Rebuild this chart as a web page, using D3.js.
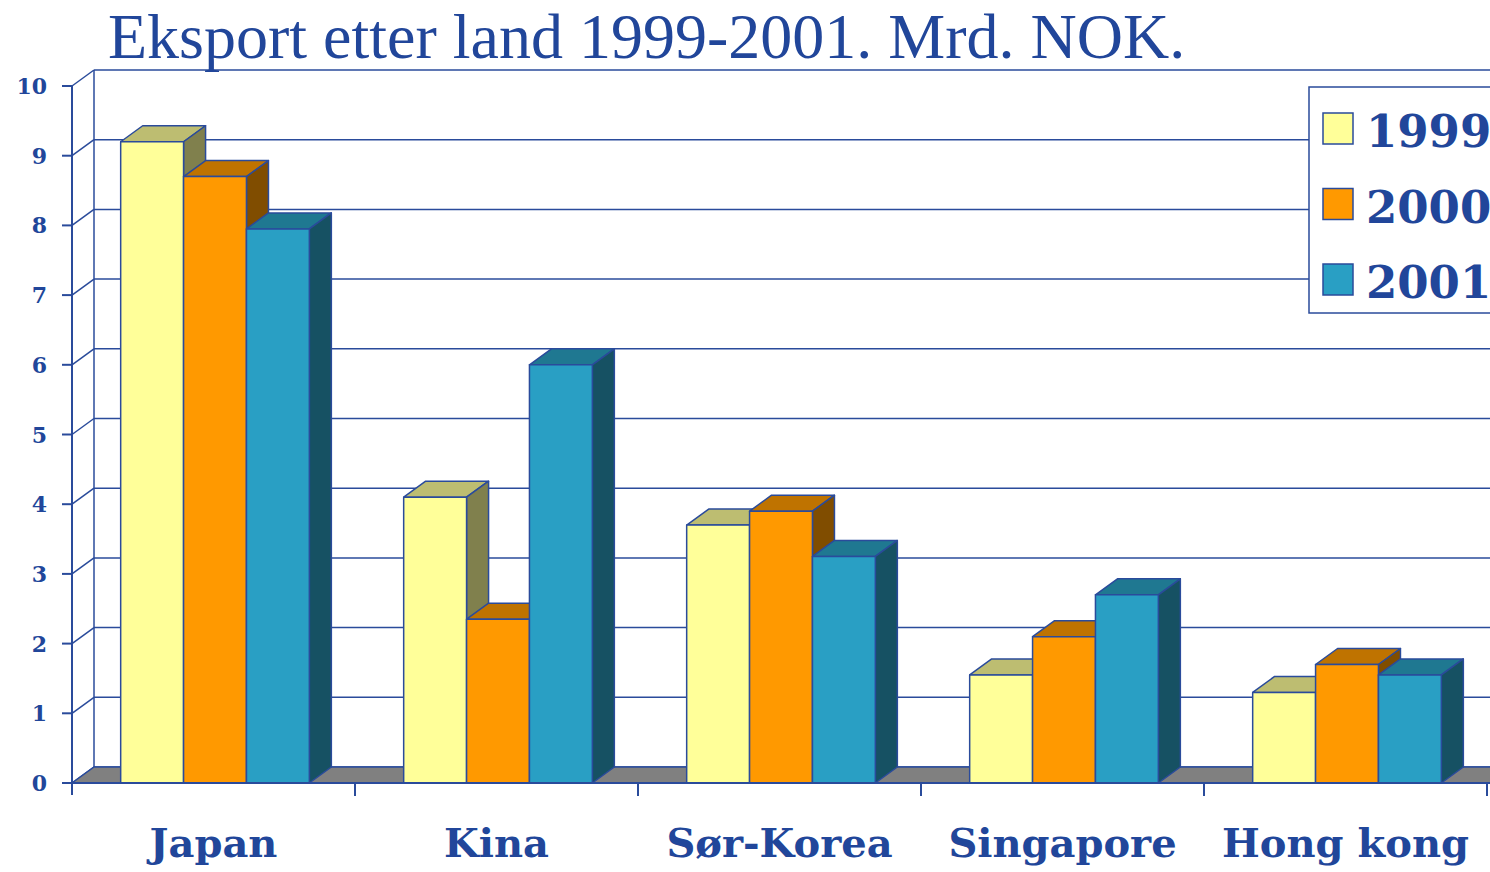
<!DOCTYPE html>
<html>
<head>
<meta charset="utf-8">
<script src="https://cdn.jsdelivr.net/npm/d3@7"></script>
<style>
  html, body { margin: 0; padding: 0; background: #fff; overflow: hidden; }
  svg { display: block; }
</style>
</head>
<body>
<svg id="chart" width="1490" height="872"></svg>
<script>
const categories = ['Japan', 'Kina', 'Sør-Korea', 'Singapore', 'Hong kong'];
const years = ['1999', '2000', '2001'];
const v1999 = [9.2, 4.1, 3.7, 1.55, 1.3];
const v2000 = [8.7, 2.35, 3.9, 2.1, 1.7];
const v2001 = [7.95, 6.0, 3.25, 2.7, 1.55];
const yTicks = [0, 1, 2, 3, 4, 5, 6, 7, 8, 9, 10];
const title = 'Eksport etter land 1999-2001. Mrd. NOK.';

const series = [v1999, v2000, v2001];
// front, top, side colours per year
const fills = [
    ['#ffff99', '#bdbd71', '#80804d'],
    ['#ff9900', '#bf7300', '#804d00'],
    ['#299fc4', '#1f7891', '#165163']
];
const blue = '#2a4b9b';
const textBlue = '#21469a';
const dx = 22, dy = -16;

var chart = d3.select('#chart');
var xs = d3.scaleBand().domain(categories).range([72, 72 + 283 * 5]);
var ys = d3.scaleLinear().domain([0, 10]).range([783, 86]);
var bw = xs.bandwidth();
var sub = d3.scaleBand().domain(years).range([0, bw * 2 / 3]);
var right = 1515;

// back wall gridlines + left wall diagonals
var grid = chart.append('g');
yTicks.forEach(function (t) {
    grid.append('line')
        .attr('x1', 72 + dx).attr('x2', right)
        .attr('y1', ys(t) + dy).attr('y2', ys(t) + dy)
        .attr('stroke', blue).attr('stroke-width', 1.5);
    grid.append('line')
        .attr('x1', 72).attr('x2', 72 + dx)
        .attr('y1', ys(t)).attr('y2', ys(t) + dy)
        .attr('stroke', blue).attr('stroke-width', 1.5);
});
grid.append('line')
    .attr('x1', 72 + dx).attr('x2', 72 + dx)
    .attr('y1', ys(10) + dy).attr('y2', ys(0) + dy)
    .attr('stroke', blue).attr('stroke-width', 1.5);

// floor
chart.append('path')
    .attr('d', 'M72,' + ys(0) + 'L' + right + ',' + ys(0) + 'L' + (right + dx) + ',' + (ys(0) + dy) +
        'L' + (72 + dx) + ',' + (ys(0) + dy) + 'Z')
    .attr('fill', '#808080').attr('stroke', blue).attr('stroke-width', 1.5);

// bars
var bars = chart.append('g');
categories.forEach(function (c, ci) {
    var x0 = xs(c) + bw * 0.172;
    series.forEach(function (s, si) {
        var x = x0 + sub(years[si]);
        var w = sub.bandwidth();
        var yt = ys(s[ci]), yb = ys(0);
        var g = bars.append('g')
            .attr('stroke', blue).attr('stroke-width', 1.5).attr('stroke-linejoin', 'round');
        g.append('path')
            .attr('d', 'M' + x + ',' + yt + 'L' + (x + dx) + ',' + (yt + dy) + 'L' + (x + w + dx) + ',' + (yt + dy) +
                'L' + (x + w) + ',' + yt + 'Z')
            .attr('fill', fills[si][1]);
        g.append('path')
            .attr('d', 'M' + (x + w) + ',' + yt + 'L' + (x + w + dx) + ',' + (yt + dy) + 'L' + (x + w + dx) + ',' + (yb + dy) +
                'L' + (x + w) + ',' + yb + 'Z')
            .attr('fill', fills[si][2]);
        g.append('rect')
            .attr('x', x).attr('y', yt).attr('width', w).attr('height', yb - yt)
            .attr('fill', fills[si][0]);
    });
});

// front axes
var ax = chart.append('g').attr('stroke', blue).attr('stroke-width', 2);
ax.append('line').attr('x1', 72).attr('x2', 72).attr('y1', ys(10)).attr('y2', ys(0) + 12);
ax.append('line').attr('x1', 72).attr('x2', right).attr('y1', ys(0)).attr('y2', ys(0));
yTicks.forEach(function (t) {
    ax.append('line').attr('x1', 62).attr('x2', 72).attr('y1', ys(t)).attr('y2', ys(t));
});
categories.forEach(function (c) {
    ax.append('line').attr('x1', xs(c) + bw).attr('x2', xs(c) + bw).attr('y1', ys(0)).attr('y2', ys(0) + 13);
});

chart.selectAll('.ylab').data(yTicks).enter().append('text')
    .attr('x', 47).attr('y', function (d) { return ys(d) + 8; })
    .attr('text-anchor', 'end')
    .style('font-family', '"DejaVu Serif", serif').style('font-weight', 'bold').style('font-size', '22px')
    .style('fill', textBlue)
    .text(function (d) { return d; });

chart.selectAll('.xlab').data(categories).enter().append('text')
    .attr('x', function (d) { return xs(d) + bw / 2; }).attr('y', 857)
    .attr('text-anchor', 'middle')
    .style('font-family', '"DejaVu Serif", serif').style('font-weight', 'bold').style('font-size', '40px')
    .style('fill', textBlue)
    .text(function (d) { return d; });

// legend
var lg = chart.append('g');
lg.append('rect').attr('x', 1309).attr('y', 87).attr('width', 200).attr('height', 226)
    .attr('fill', '#fff').attr('stroke', blue).attr('stroke-width', 1.5);
years.forEach(function (yr, i) {
    var yy = 113 + i * 75.5;
    lg.append('rect').attr('x', 1323).attr('y', yy).attr('width', 30).attr('height', 31)
        .attr('fill', fills[i][0]).attr('stroke', blue).attr('stroke-width', 1.5);
    lg.append('text').attr('x', 1366).attr('y', yy + 34)
        .style('font-family', '"DejaVu Serif", serif').style('font-weight', 'bold').style('font-size', '45px')
        .style('fill', textBlue)
        .text(yr);
});

chart.append('text')
    .attr('x', 108).attr('y', 58)
    .style('font-family', '"Liberation Serif", "Times New Roman", serif').style('font-size', '64px')
    .style('fill', textBlue)
    .text(title);
</script>
</body>
</html>
